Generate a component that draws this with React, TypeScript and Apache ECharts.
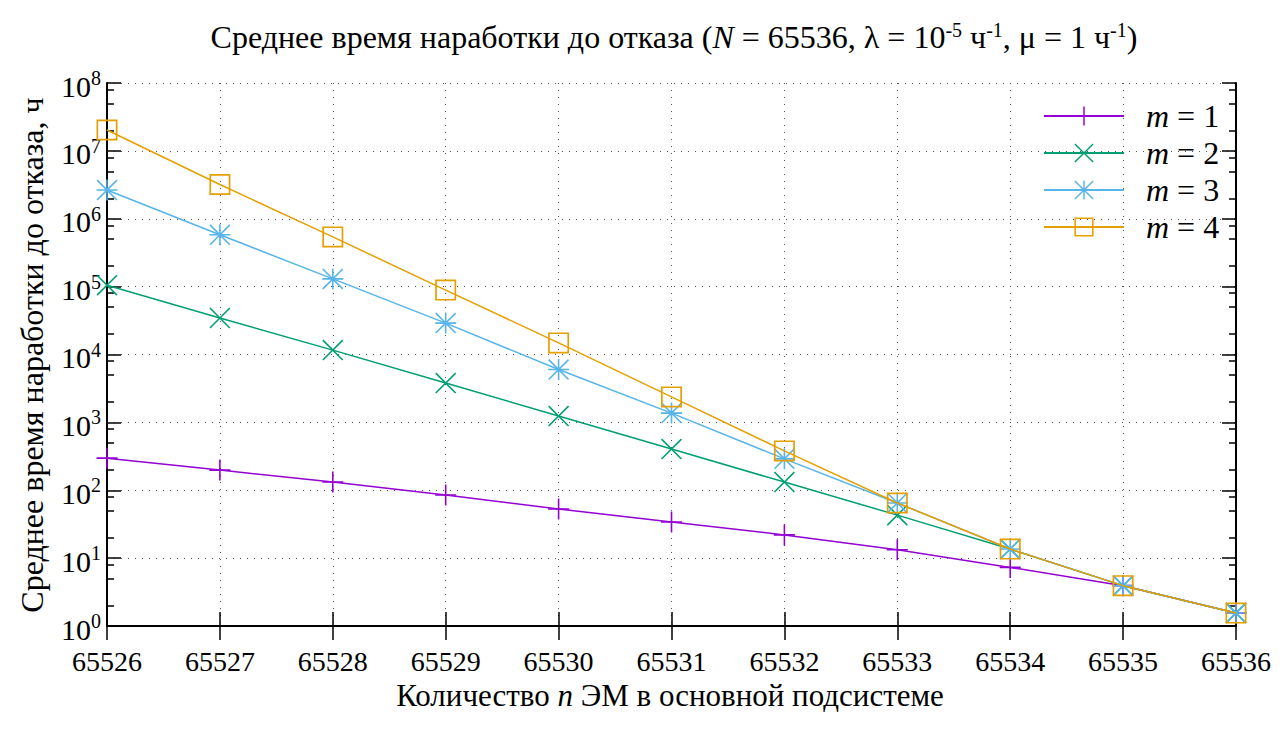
import React, { useEffect, useRef } from 'react';
import * as echarts from 'echarts';

const FONT = '"Liberation Serif", "Times New Roman", Times, serif';

const categories = ['65526', '65527', '65528', '65529', '65530', '65531', '65532', '65533', '65534', '65535', '65536'];
const seriesNames = ['m = 1', 'm = 2', 'm = 3', 'm = 4'];
const m1 = [297, 198, 132, 85, 53, 34, 22, 13.3, 7.3, 3.93, 1.55];
const m2 = [105000, 34500, 11600, 3800, 1240, 405, 132, 43, 13.6, 3.93, 1.55];
const m3 = [2650000, 580000, 130000, 29000, 6000, 1370, 290, 65, 13.6, 3.93, 1.55];
const m4 = [20300000, 3200000, 540000, 89000, 14800, 2370, 380, 65, 13.6, 3.93, 1.55];
const colors = ['#9400d3', '#009e73', '#56b4e9', '#e69f00'];

const yMin = 1;
const yMax = 1e8;
const decadeCount = 8;
const minorMultipliers = [2, 5, 8];

const SYM_PLUS = 'path://M9.25,0h1.5v20h-1.5z M0,9.25h20v1.5h-20z';
const SYM_CROSS = 'path://M0,1.06L1.06,0L20,18.94L18.94,20Z M18.94,0L20,1.06L1.06,20L0,18.94Z';
const SYM_STAR = 'path://M9.25,0h1.5v20h-1.5z M0,9.25h20v1.5h-20z M0,1.06L1.06,0L20,18.94L18.94,20Z M18.94,0L20,1.06L1.06,20L0,18.94Z';
const SYM_BOX = 'path://M0,0h20v20h-20z M1.6,1.6v16.8h16.8v-16.8z';
const symbols = [SYM_PLUS, SYM_CROSS, SYM_STAR, SYM_BOX];

const FS = 32;
const FS_XNAME = 31;
const FS_XTICK = 28;
const FS_YTICK = 30;
const FS_SUP = 20;

export default function App() {
  const ref = useRef<HTMLDivElement>(null);
  useEffect(() => {
    if (!ref.current) return;
    const chart = echarts.init(ref.current, null, { renderer: 'svg' });
    const data = [m1, m2, m3, m4];
    const minorTicks: number[] = [];
    for (let k = 0; k < decadeCount; k++) {
      minorMultipliers.forEach((mm) => minorTicks.push(k + Math.log10(mm)));
    }
    const axisLine = { show: true, lineStyle: { color: '#000', width: 2 } };
    const majorTick = { show: true, inside: true, length: 14, interval: 0, lineStyle: { color: '#000', width: 1.5 } };
    const grid = { type: [1, 6], color: '#555', width: 1 };
    const minorAxis = (pos: string) => ({
      type: 'value',
      position: pos,
      min: 0,
      max: decadeCount,
      axisLine: { show: false },
      axisLabel: { show: false },
      splitLine: { show: false },
      axisTick: { show: true, inside: true, length: 7, customValues: minorTicks, lineStyle: { color: '#000', width: 1.5 } },
    });
    const option: any = {
      animation: false,
      backgroundColor: '#fff',
      textStyle: { fontFamily: FONT },
      grid: { left: 107, right: 49, top: 83, bottom: 103, containLabel: false, outerBoundsMode: 'none' },
      legend: {
        orient: 'vertical',
        left: 1043,
        top: 100,
        padding: 0,
        itemWidth: 80,
        itemHeight: 24,
        itemGap: 5,
        selectedMode: false,
        data: seriesNames,
        formatter: (n: string) => `{i|m}{t| = ${n.split('=')[1].trim()}}`,
        textStyle: {
          fontFamily: FONT,
          fontSize: FS,
          color: '#000',
          rich: {
            i: { fontFamily: FONT, fontSize: FS, fontStyle: 'italic', color: '#000', padding: [0, 0, 0, 17] },
            t: { fontFamily: FONT, fontSize: FS, color: '#000' },
          },
        },
      },
      xAxis: [
        {
          type: 'category',
          data: categories,
          boundaryGap: false,
          position: 'bottom',
          axisLine,
          axisTick: majorTick,
          axisLabel: { interval: 0, fontFamily: FONT, fontSize: FS_XTICK, lineHeight: 22, color: '#000', margin: 24 },
          splitLine: { show: true, interval: 0, lineStyle: grid },
        },
        {
          type: 'category',
          data: categories,
          boundaryGap: false,
          position: 'top',
          axisLine,
          axisTick: majorTick,
          axisLabel: { show: false },
          splitLine: { show: false },
        },
      ],
      yAxis: [
        {
          type: 'log',
          logBase: 10,
          min: yMin,
          max: yMax,
          interval: 1,
          position: 'left',
          axisLine,
          axisTick: majorTick,
          axisLabel: {
            margin: 6,
            formatter: (v: number) => `{b|10}{s|${Math.round(Math.log10(v))}}`,
            rich: {
              b: { fontFamily: FONT, fontSize: FS_YTICK, color: '#000', padding: [6, 0, 0, 0] },
              s: { fontFamily: FONT, fontSize: FS_SUP, color: '#000', padding: [0, 0, 10, 0] },
            },
          },
          splitLine: { show: true, lineStyle: grid },
        },
        {
          type: 'log',
          logBase: 10,
          min: yMin,
          max: yMax,
          interval: 1,
          position: 'right',
          axisLine,
          axisTick: majorTick,
          axisLabel: { show: false },
          splitLine: { show: false },
        },
        minorAxis('left'),
        minorAxis('right'),
      ],
      series: data.map((d, i) => ({
        name: seriesNames[i],
        type: 'line',
        xAxisIndex: 0,
        yAxisIndex: 0,
        data: d,
        color: colors[i],
        symbol: symbols[i],
        symbolSize: 21,
        showSymbol: true,
        showAllSymbol: true,
        itemStyle: { color: colors[i], borderWidth: 0 },
        lineStyle: { color: colors[i], width: 1.5 },
        emphasis: { disabled: true },
        z: 2 + i,
      })),
      graphic: [
        {
          type: 'text',
          x: 674,
          y: 37,
          style: {
            text: '{t|Среднее время наработки до отказа (}{i|N}{t| = 65536, λ = 10}{s|-5}{t| ч}{s|-1}{t|, μ = 1 ч}{s|-1}{t|)}',
            align: 'center',
            verticalAlign: 'middle',
            fill: '#000',
            fontFamily: FONT,
            fontSize: FS,
            rich: {
              t: { fontFamily: FONT, fontSize: FS, fill: '#000' },
              i: { fontFamily: FONT, fontSize: FS, fontStyle: 'italic', fill: '#000' },
              s: { fontFamily: FONT, fontSize: FS_SUP, fill: '#000', padding: [0, 0, 14, 0] },
            },
          },
        },
        {
          type: 'text',
          x: 32,
          y: 355,
          rotation: Math.PI / 2,
          style: {
            text: 'Среднее время наработки до отказа, ч',
            align: 'center',
            verticalAlign: 'middle',
            fill: '#000',
            fontFamily: FONT,
            fontSize: FS,
          },
        },
        {
          type: 'text',
          x: 670,
          y: 695,
          style: {
            text: '{t|Количество }{i|n}{t| ЭМ в основной подсистеме}',
            align: 'center',
            verticalAlign: 'middle',
            fill: '#000',
            fontFamily: FONT,
            fontSize: FS_XNAME,
            rich: {
              t: { fontFamily: FONT, fontSize: FS_XNAME, fill: '#000' },
              i: { fontFamily: FONT, fontSize: FS_XNAME, fontStyle: 'italic', fill: '#000' },
            },
          },
        },
      ],
    };
    chart.setOption(option);
    return () => chart.dispose();
  }, []);
  return <div ref={ref} style={{ position: 'absolute', left: 0, top: 0, width: 1285, height: 729 }} />;
}
